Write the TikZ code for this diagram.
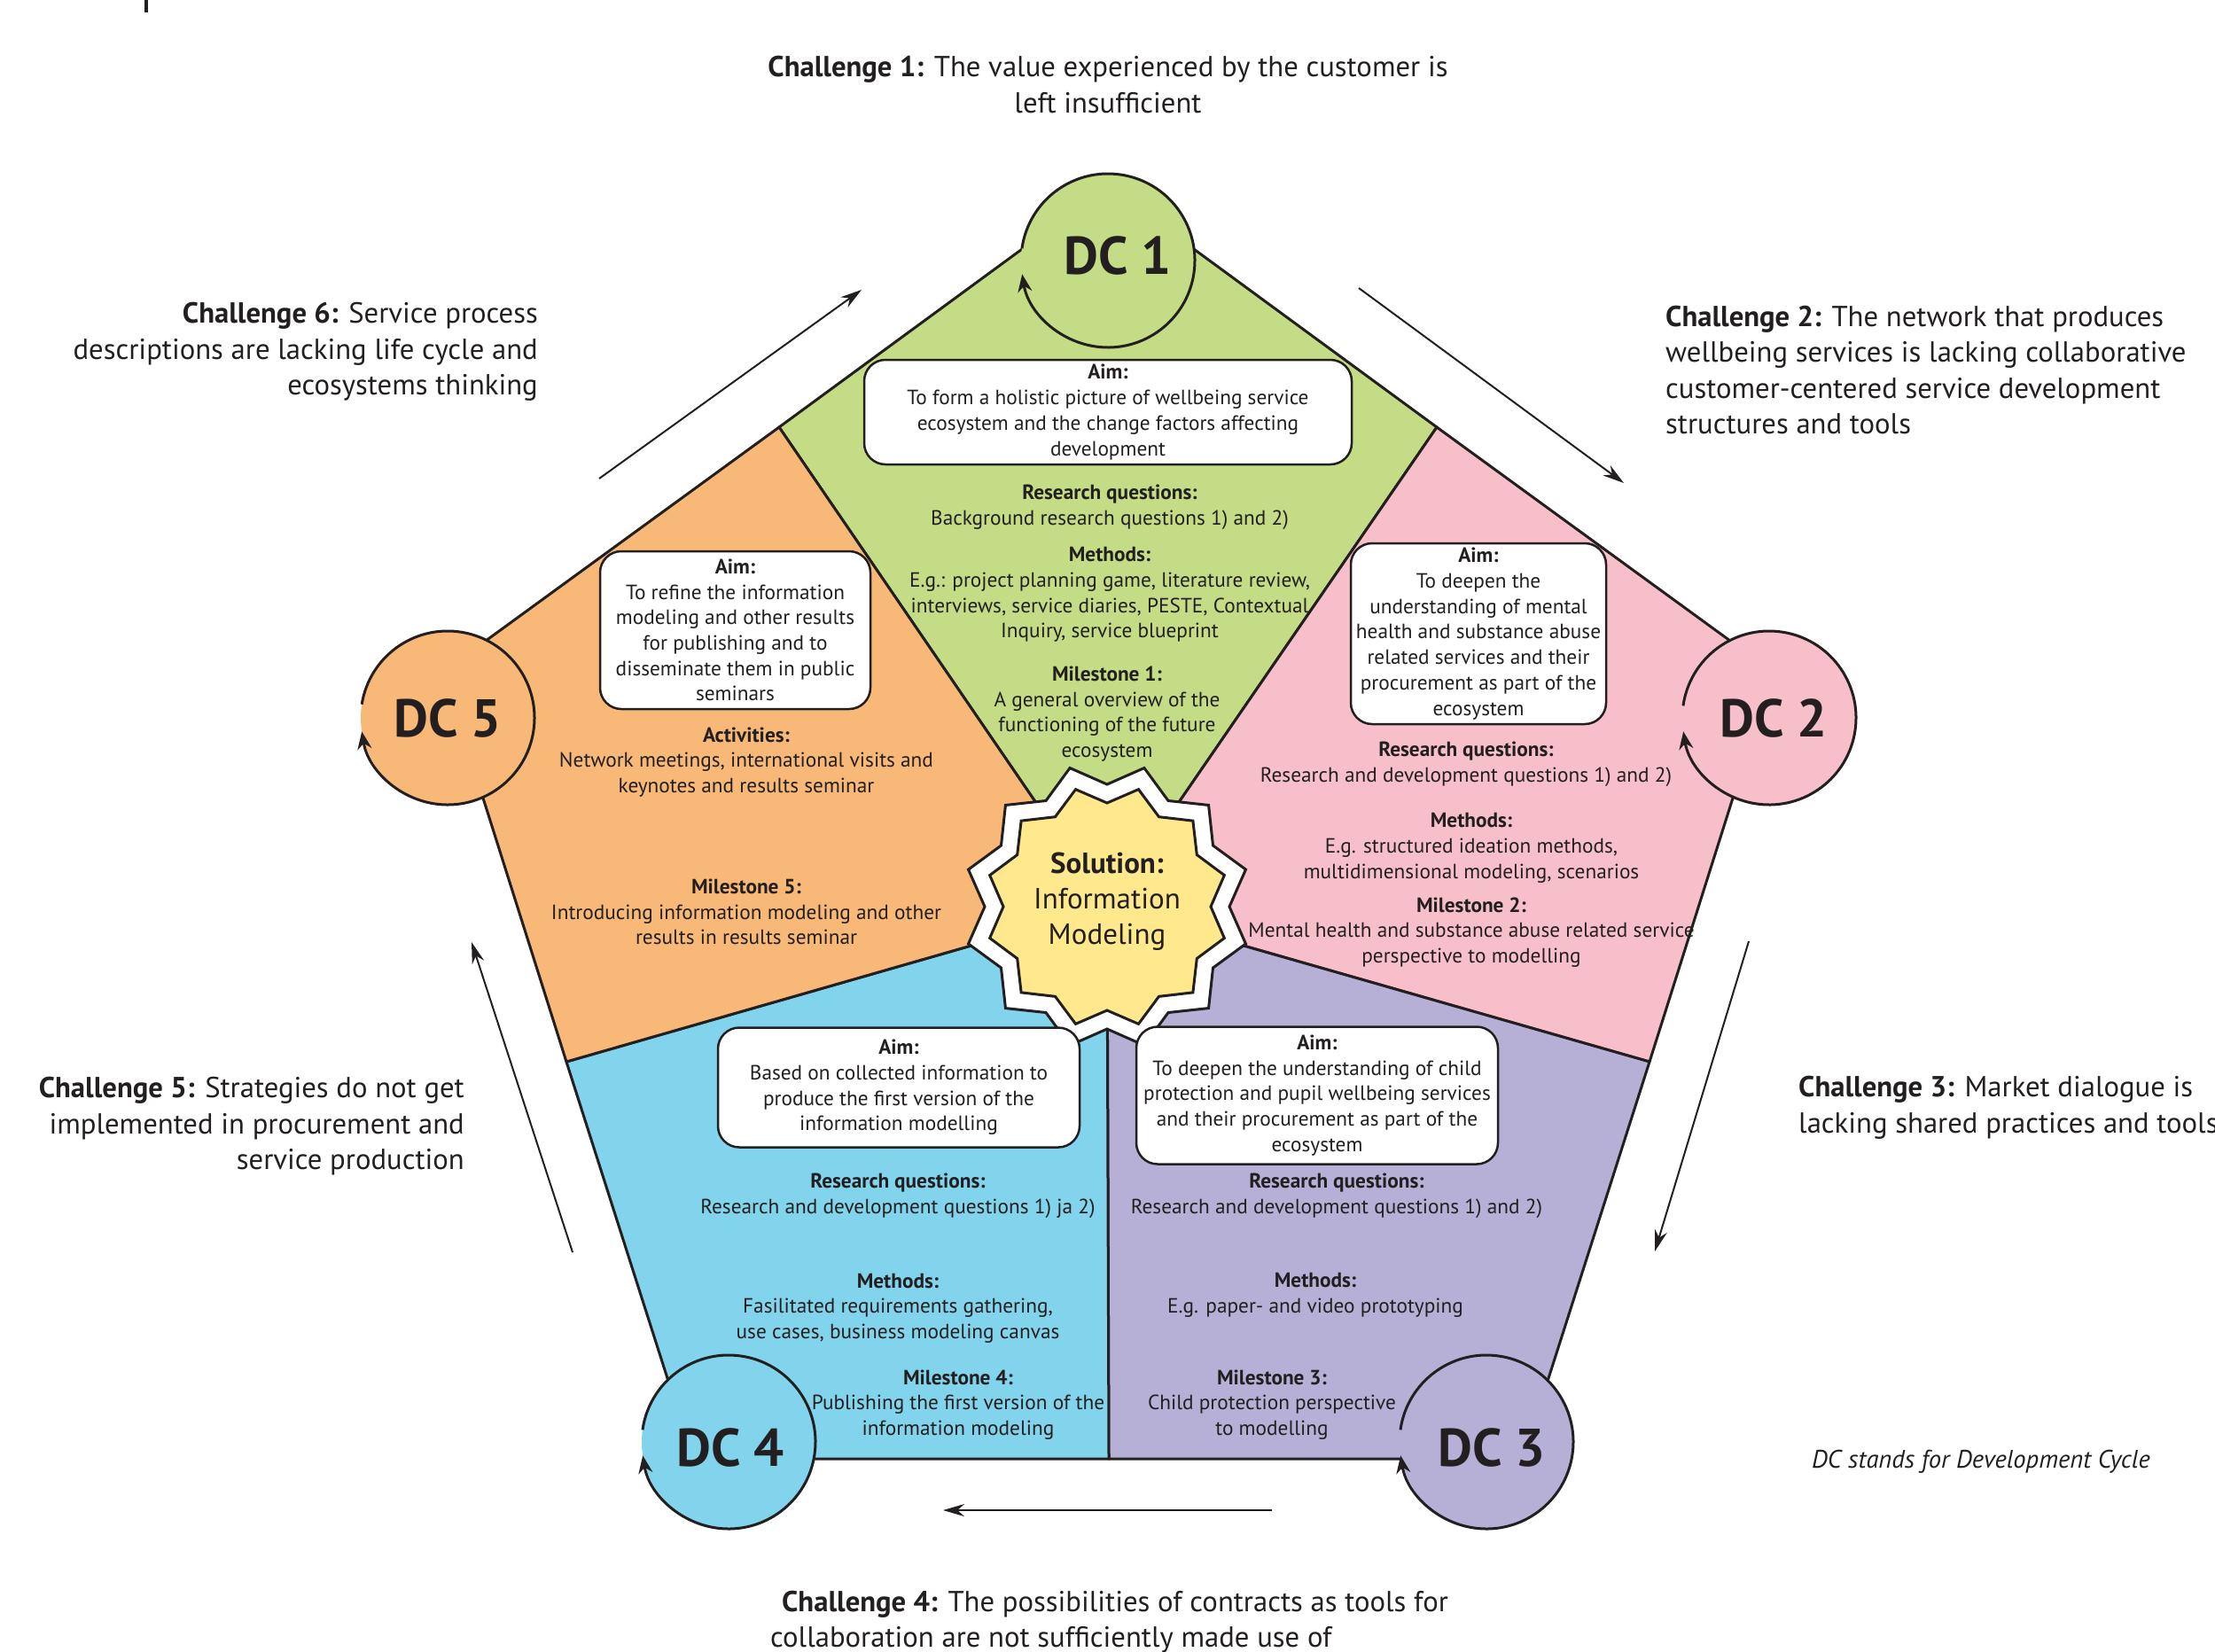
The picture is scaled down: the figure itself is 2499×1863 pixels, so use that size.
\documentclass[tikz,border=0pt]{standalone}
\usepackage{fontspec}
\setmainfont{PT Sans}
\usetikzlibrary{arrows.meta}
\definecolor{cgreen}{RGB}{196,220,134}
\definecolor{cpink}{RGB}{247,191,201}
\definecolor{cpurple}{RGB}{182,176,214}
\definecolor{cblue}{RGB}{130,211,236}
\definecolor{corange}{RGB}{248,185,120}
\definecolor{cyellow}{RGB}{255,233,140}
\definecolor{ink}{RGB}{35,31,32}
\newcommand\bodyfont{\fontsize{23.3}{28.7}\selectfont}
\newcommand\chalfont{\fontsize{32.7}{40.5}\selectfont}
\begin{document}
\begin{tikzpicture}[x=1pt,y=1pt,
  region/.style={draw=ink, line width=3pt, line join=round},
  dccircle/.style={circle, inner sep=0pt, outer sep=0pt, minimum size=196pt},
  dclabel/.style={font=\fontsize{60}{60}\selectfont\bfseries, text=ink, inner sep=0pt},
  cyclearrow/.style={draw=ink, line width=3pt, -{Stealth[length=20pt,width=16pt]}},
  aimbox/.style={draw=ink, fill=white, line width=2.5pt, rounded corners=24pt, inner sep=0pt, align=center, font=\bodyfont, text=ink},
  body/.style={align=center, font=\bodyfont, text=ink, inner sep=0pt},
  challenge/.style={font=\chalfont, text=ink, inner sep=0pt},
  charrow/.style={draw=ink, line width=2pt, -{Stealth[length=24pt,width=14pt]}},
]
\fill[white] (0,0) rectangle (2499,-1863);
\useasboundingbox (0,0) rectangle (2499,-1863);

% pentagon geometry
\coordinate (S) at (1249,-1023);
\coordinate (P1) at (1250,-210);
\coordinate (P2) at (2000,-758);
\coordinate (P3) at (1718,-1646);
\coordinate (P4) at (782,-1646);
\coordinate (P5) at (500,-758);
\coordinate (A) at (879,-482);
\coordinate (B) at (1621,-482);
\coordinate (C) at (1861,-1198);
\coordinate (D) at (639,-1198);
\coordinate (E) at (1251,-1646);

\filldraw[region, fill=cgreen] (S) -- (A) -- (P1) -- (B) -- cycle;
\filldraw[region, fill=cpink] (S) -- (B) -- (P2) -- (C) -- cycle;
\filldraw[region, fill=cpurple] (S) -- (C) -- (P3) -- (E) -- cycle;
\filldraw[region, fill=cblue] (S) -- (E) -- (P4) -- (D) -- cycle;
\filldraw[region, fill=corange] (S) -- (D) -- (P5) -- (A) -- cycle;

% development cycle circles
\node[dccircle, fill=cgreen] (dc1) at (1250,-294) {};
\draw[cyclearrow] (dc1.172) arc[start angle=172, end angle=-171, radius=98pt];
\node[dclabel] (dc1t) at (1261,-288) {DC 1};

\node[dccircle, fill=cpink] (dc2) at (1996,-810) {};
\draw[cyclearrow] (dc2.172) arc[start angle=172, end angle=-171, radius=98pt];
\node[dclabel] (dc2t) at (2001,-810) {DC 2};

\node[dccircle, fill=cpurple] (dc3) at (1677,-1627) {};
\draw[cyclearrow] (dc3.172) arc[start angle=172, end angle=-171, radius=98pt];
\node[dclabel] (dc3t) at (1683,-1633) {DC 3};

\node[dccircle, fill=cblue] (dc4) at (822,-1627) {};
\draw[cyclearrow] (dc4.172) arc[start angle=172, end angle=-171, radius=98pt];
\node[dclabel] (dc4t) at (824,-1633) {DC 4};

\node[dccircle, fill=corange] (dc5) at (505,-810) {};
\draw[cyclearrow] (dc5.171) arc[start angle=171, end angle=-171, radius=98pt];
\node[dclabel] (dc5t) at (505,-810) {DC 5};

% solution star
\begin{scope}[shift={(S)}]
\draw[draw=ink, line width=3pt, fill=white] (0:138) \foreach \a in {15,45,...,345} { -- (\a:162) -- ({\a+15}:138) } -- cycle;
\draw[draw=ink, line width=3pt, fill=cyellow] (0:117) \foreach \a in {15,45,...,345} { -- (\a:137) -- ({\a+15}:117) } -- cycle;
\end{scope}
\node[align=center, font=\fontsize{33}{40}\selectfont, text=ink, inner sep=0pt] (sol) at (1249,-1017) {\textbf{Solution:}\\Information\\Modeling};

% aim boxes
\node[aimbox, minimum width=550pt, minimum height=118pt] (aim1) at (1250,-465) {\textbf{Aim:}\\To form a holistic picture of wellbeing service\\ecosystem and the change factors affecting\\development};
\node[aimbox, minimum width=288pt, minimum height=204pt] (aim2) at (1668,-715) {\textbf{Aim:}\\To deepen the\\understanding of mental\\health and substance abuse\\related services and their\\procurement as part of the\\ecosystem};
\node[aimbox, minimum width=408pt, minimum height=155pt] (aim3) at (1486,-1236) {\textbf{Aim:}\\To deepen the understanding of child\\protection and pupil wellbeing services\\and their procurement as part of the\\ecosystem};
\node[aimbox, minimum width=408pt, minimum height=135pt] (aim4) at (1014,-1227) {\textbf{Aim:}\\Based on collected information to\\produce the first version of the\\information modelling};
\node[aimbox, minimum width=305pt, minimum height=178pt] (aim5) at (829.5,-711) {\textbf{Aim:}\\To refine the information\\modeling and other results\\for publishing and to\\disseminate them in public\\seminars};

% DC1 texts
\node[body] (g1) at (1252,-572.5) {\textbf{Research questions:}\\Background research questions 1) and 2)};
\node[body] (g2) at (1252,-671) {\textbf{Methods:}\\E.g.: project planning game, literature review,\\interviews, service diaries, PESTE, Contextual\\Inquiry, service blueprint};
\node[body] (g3) at (1249,-805.5) {\textbf{Milestone 1:}\\A general overview of the\\functioning of the future\\ecosystem};
% DC2 texts
\node[body] (p1) at (1654,-862) {\textbf{Research questions:}\\Research and development questions 1) and 2)};
\node[body] (p2) at (1660,-957) {\textbf{Methods:}\\E.g. structured ideation methods,\\multidimensional modeling, scenarios};
\node[body] (p3) at (1660,-1052) {\textbf{Milestone 2:}\\Mental health and substance abuse related service\\perspective to modelling};
% DC3 texts
\node[body] (u1) at (1508,-1349) {\textbf{Research questions:}\\Research and development questions 1) and 2)};
\node[body] (u2) at (1484,-1461.5) {\textbf{Methods:}\\E.g. paper- and video prototyping};
\node[body] (u3) at (1435,-1585) {\textbf{Milestone 3:}\\Child protection perspective\\to modelling};
% DC4 texts
\node[body] (b1) at (1013,-1349) {\textbf{Research questions:}\\Research and development questions 1) ja 2)};
\node[body] (b2) at (1013,-1476) {\textbf{Methods:}\\Fasilitated requirements gathering,\\use cases, business modeling canvas};
\node[body] (b3) at (1081,-1585) {\textbf{Milestone 4:}\\Publishing the first version of the\\information modeling};
% DC5 texts
\node[body] (o1) at (842,-860) {\textbf{Activities:}\\Network meetings, international visits and\\keynotes and results seminar};
\node[body] (o2) at (842,-1029) {\textbf{Milestone 5:}\\Introducing information modeling and other\\results in results seminar};

% challenges
\node[challenge, align=center] (ch1) at (1250,-95.5) {\textbf{Challenge 1:} The value experienced by the customer is\\left insufficient};
\node[challenge, align=left, anchor=west] (ch2) at (1879,-417.5) {\textbf{Challenge 2:} The network that produces\\wellbeing services is lacking collaborative\\customer-centered service development\\structures and tools};
\node[challenge, align=left, anchor=west] (ch3) at (2029,-1250) {\textbf{Challenge 3:} Market dialogue is\\lacking shared practices and tools};
\node[challenge, align=left, anchor=west] (ch4) at (869,-1830) {\hspace*{13pt}\textbf{Challenge 4:} The possibilities of contracts as tools for\\collaboration are not sufficiently made use of};
\node[challenge, align=right, anchor=east] (ch5) at (524,-1271) {\textbf{Challenge 5:} Strategies do not get\\implemented in procurement and\\service production};
\node[challenge, align=right, anchor=east] (ch6) at (607,-397) {\textbf{Challenge 6:} Service process\\descriptions are lacking life cycle and\\ecosystems thinking};

\node[font=\fontsize{28.6}{32}\selectfont\itshape, text=ink, inner sep=0pt] (note) at (2235,-1649) {DC stands for Development Cycle};

% challenge arrows
\coordinate (a6s) at (676,-540);  \coordinate (a6e) at (972,-327);
\coordinate (a2s) at (1533,-325); \coordinate (a2e) at (1832,-545);
\coordinate (a3s) at (1973,-1062); \coordinate (a3e) at (1867,-1412);
\coordinate (a4s) at (1435,-1704); \coordinate (a4e) at (1064,-1704);
\coordinate (a5s) at (646,-1413); \coordinate (a5e) at (532,-1063);
\draw[charrow] (a6s) -- (a6e);
\draw[charrow] (a2s) -- (a2e);
\draw[charrow] (a3s) -- (a3e);
\draw[charrow] (a4s) -- (a4e);
\draw[charrow] (a5s) -- (a5e);

% fragment at top-left
\coordinate (fragA) at (165,0); \coordinate (fragB) at (165,-14);
\draw[draw=ink, line width=4pt] (fragA) -- (fragB);
\end{tikzpicture}
\end{document}
